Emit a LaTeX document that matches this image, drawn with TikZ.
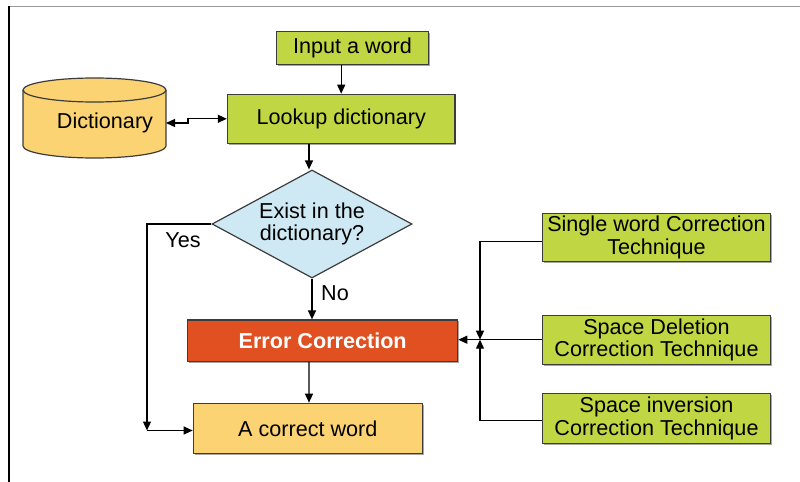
\documentclass[tikz,border=0pt]{standalone}
\usepackage{fontspec}
\setmainfont{Liberation Sans}
\usetikzlibrary{arrows.meta,shapes.geometric,shadows}
\definecolor{lime}{RGB}{192,214,66}
\definecolor{errred}{RGB}{224,80,32}
\definecolor{dictyel}{RGB}{251,211,115}
\definecolor{diablue}{RGB}{207,233,244}
\definecolor{edge}{RGB}{60,60,60}
\tikzset{
  box/.style={draw=edge, line width=0.6pt, inner sep=0pt, align=center,
    font=\fontsize{10.8}{11.2}\selectfont,
    drop shadow={shadow xshift=0.7pt, shadow yshift=-0.7pt, fill=black, opacity=0.35}},
  greenbox/.style={box, fill=lime},
  conn/.style={line width=0.6pt, black},
  arr/.style={conn, -{Triangle[length=4.5pt,width=4pt]}},
  lbl/.style={font=\fontsize{10.8}{11.2}\selectfont, inner sep=0pt},
}
\begin{document}
\begin{tikzpicture}[x=0.5pt,y=-0.5pt]
\useasboundingbox (0,0) rectangle (800,482);
% frame
\draw[gray!80, line width=0.8pt] (9,6.5) -- (800,6.5);
\draw[black, line width=1pt] (9,6) -- (9,482);

% nodes
\node[greenbox, minimum width=75.8pt, minimum height=16.2pt] (input) at (352.5,48) {Input a word};
\node[greenbox, minimum width=113.8pt, minimum height=24.5pt] (lookup) at (341.2,118.8) {Lookup dictionary};
\node[diamond, draw=edge, line width=0.6pt, fill=diablue, aspect=1.85, inner sep=0pt,
      minimum width=100pt, minimum height=54pt, align=center,
      font=\fontsize{10.8}{11.2}\selectfont] (dia) at (312,224) {Exist in the\\dictionary?};
\node[box, fill=errred, text=white, font=\fontsize{10.8}{11.2}\selectfont\bfseries,
      minimum width=135pt, minimum height=20.8pt] (err) at (322.7,340.8) {Error Correction};
\node[box, fill=dictyel, minimum width=114.5pt, minimum height=25pt] (correct) at (307.8,428.3) {A correct word};
\node[greenbox, minimum width=113.8pt, minimum height=24.2pt] (s1) at (656.5,237.5) {Single word Correction\\Technique};
\node[greenbox, minimum width=113.8pt, minimum height=24.6pt] (s2) at (656.5,339.7) {Space Deletion\\Correction Technique};
\node[greenbox, minimum width=113.8pt, minimum height=25pt] (s3) at (656.5,418.3) {Space inversion\\Correction Technique};

% dictionary cylinder
\path[fill=dictyel, draw=edge, line width=0.6pt]
  (23,90) -- (23,146) arc[start angle=180, end angle=360, x radius=35.75pt, y radius=6pt]
  -- (166,90) arc[start angle=0, end angle=180, x radius=35.75pt, y radius=6pt] -- cycle;
\draw[edge, line width=0.6pt] (23,90) arc[start angle=180, end angle=360, x radius=35.75pt, y radius=6pt];
\node[lbl] (dict) at (105,123) {Dictionary};
\coordinate (dictE) at (166,123);
\coordinate (jogA) at (188,118.8);
\coordinate (jogB) at (188,123);

% connectors
\draw[arr] (input.south -| lookup.north) -- (lookup.north);
\draw[conn, {Triangle[length=4.5pt,width=4pt]}-{Triangle[length=4.5pt,width=4pt]}]
  (lookup.west) -- (jogA) -- (jogB) -- (dictE);
\draw[arr] (lookup.south -| dia.north) ++(-3,0) -- ([xshift=-1.5pt]dia.north);
% Yes branch
\coordinate (yc) at (147,430.5);
\draw[arr] (dia.west) -| (yc);
\draw[arr] (yc) -- (correct.west |- yc);
\node[lbl] (yes) at (183,240) {Yes};
% No branch
\draw[arr] (dia.south) -- (dia.south |- err.north);
\node[lbl] (no) at (335,293) {No};
% Error -> correct
\draw[arr] (err.south -| correct.north) ++(1.2,0) -- ([xshift=0.6pt]correct.north);
% techniques bus
\coordinate (bus) at (480,339.7);
\draw[arr] ([yshift=-2pt]s1.west) -| (bus);
\draw[arr] ([yshift=-1.2pt]s3.west) -| (bus);
\draw[arr] (s2.west) -- (err.east |- s2.west);
\end{tikzpicture}
\end{document}
